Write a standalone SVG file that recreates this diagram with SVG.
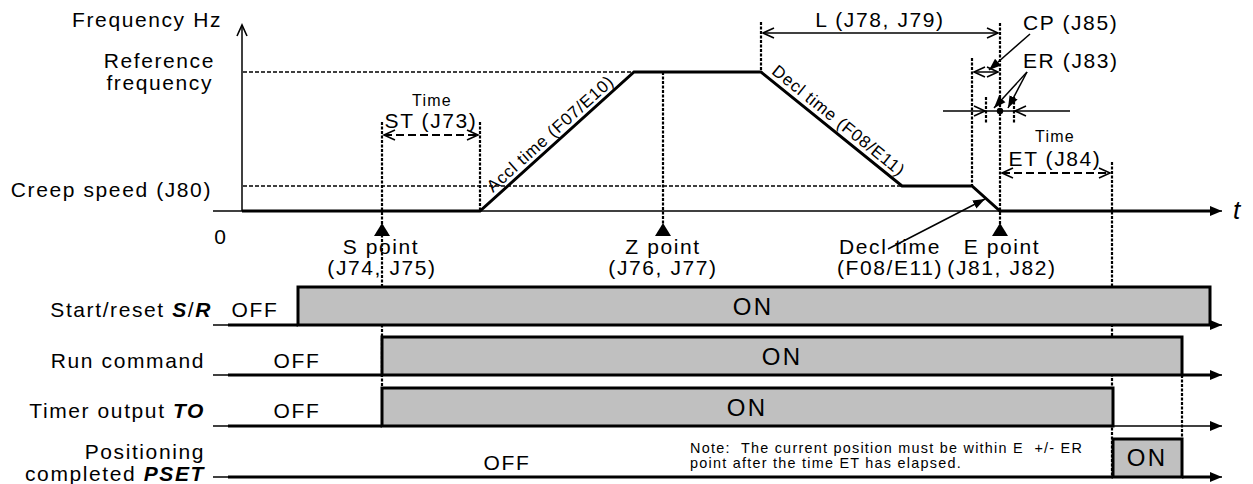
<svg xmlns="http://www.w3.org/2000/svg" width="1253" height="484" viewBox="0 0 1253 484">
<defs>
<style>
text{font-family:"Liberation Sans",Arial,sans-serif;fill:#000}
.t{font-size:21px;letter-spacing:1.6px}
.on{font-size:24px;letter-spacing:2.2px}
.s{font-size:16px;letter-spacing:1.3px}
.r{font-size:17px;letter-spacing:0.8px}
.n{font-size:14.4px;letter-spacing:1.25px;white-space:pre}
.ax{stroke:#000;stroke-width:1.5;fill:none}
.sig{stroke:#000;stroke-width:3;fill:none}
.bar{fill:#c0c0c0;stroke:#000;stroke-width:3}
.dot{stroke:#000;stroke-width:2.2;stroke-dasharray:3 1.5;fill:none}
.ref{stroke:#000;stroke-width:1.5;stroke-dasharray:4 2;fill:none}
.dim{stroke:#000;stroke-width:2;stroke-dasharray:8 4;fill:none}
.thin{stroke:#000;stroke-width:1.5;fill:none}
.bi{font-weight:bold;font-style:italic}
</style>
<marker id="fa" markerUnits="userSpaceOnUse" markerWidth="14" markerHeight="10" refX="12" refY="5" orient="auto"><path d="M0,0 L12,5 L0,10 Z" fill="#000"/></marker>
<marker id="oa" markerUnits="userSpaceOnUse" markerWidth="14" markerHeight="12" refX="12" refY="6" orient="auto-start-reverse"><path d="M1,1 L12,6 L1,11" fill="none" stroke="#000" stroke-width="1.6"/></marker>
<marker id="la" markerUnits="userSpaceOnUse" markerWidth="14" markerHeight="10" refX="12" refY="5" orient="auto"><path d="M0,0.5 L12,5 L0,9.5 Z" fill="#000"/></marker>
<polygon id="tri" points="0,0 8,13 -8,13" fill="#000"/>
</defs>

<g id="axes">
<line class="ax" x1="242" y1="211" x2="242" y2="25" marker-end="url(#oa)"/>
<line class="ax" x1="213" y1="211" x2="1222" y2="211" marker-end="url(#fa)"/>
</g>

<g id="axis-labels">
<text class="t" x="222" y="27" text-anchor="end">Frequency Hz</text>
<text class="t" x="215" y="68" text-anchor="end">Reference</text>
<text class="t" x="213" y="90" text-anchor="end">frequency</text>
<text class="t" x="212" y="197" text-anchor="end">Creep speed (J80)</text>
<text class="t" x="221" y="244" text-anchor="middle">0</text>
<text x="1233" y="219" style="font-size:26px;font-style:italic">t</text>
</g>

<g id="reference-lines">
<line class="ref" x1="243" y1="72" x2="634" y2="72"/>
<line class="ref" x1="243" y1="186" x2="902" y2="186"/>
</g>

<g id="frequency-trace">
<polyline class="sig" points="242,211 480,211 634,72 761,72 902,186 972,186 1000,211 1215,211"/>
</g>

<g id="connectors">
<line class="dot" x1="382" y1="122" x2="382" y2="388"/>
<line class="dot" x1="480" y1="122" x2="480" y2="211"/>
<line class="dot" x1="663" y1="72" x2="663" y2="224"/>
<line class="dot" x1="761" y1="22" x2="761" y2="72"/>
<line class="dot" x1="972" y1="58" x2="972" y2="186"/>
<line class="dot" x1="1000" y1="23" x2="1000" y2="224"/>
<line class="dot" x1="1112" y1="162" x2="1112" y2="477"/>
<line class="dot" x1="1182" y1="375" x2="1182" y2="439"/>
<line class="dot" x1="986" y1="97" x2="986" y2="123"/>
<line class="dot" x1="1014" y1="97" x2="1014" y2="123"/>
<line class="dim" x1="384" y1="135" x2="478" y2="135" marker-start="url(#oa)" marker-end="url(#oa)"/>
<line class="dim" x1="1002" y1="173" x2="1110" y2="173" marker-start="url(#oa)" marker-end="url(#oa)"/>
<line class="thin" x1="763" y1="33" x2="998" y2="33" marker-start="url(#oa)" marker-end="url(#oa)"/>
<line class="thin" x1="974" y1="72" x2="998" y2="72" marker-start="url(#oa)" marker-end="url(#oa)"/>
<line class="thin" x1="943" y1="111" x2="985" y2="111" marker-end="url(#oa)"/>
<line class="thin" x1="1070" y1="111" x2="1015" y2="111" marker-end="url(#oa)"/>
<line class="thin" x1="985" y1="111" x2="1015" y2="111"/>
<circle cx="1000" cy="111" r="3.2" fill="#000"/>
<line class="thin" x1="1030" y1="34" x2="989" y2="70" marker-end="url(#la)"/>
<line class="thin" x1="1027" y1="72" x2="994" y2="108" marker-end="url(#la)"/>
<line class="thin" x1="1027" y1="72" x2="1008" y2="108" marker-end="url(#la)"/>
<line class="thin" x1="888" y1="249" x2="985" y2="199" marker-end="url(#la)"/>
<use href="#tri" x="382" y="223"/>
<use href="#tri" x="663" y="223"/>
<use href="#tri" x="1000" y="223"/>
</g>

<g id="dimension-labels">
<text class="s" x="432" y="106" text-anchor="middle">Time</text>
<text class="t" x="431" y="128" text-anchor="middle">ST (J73)</text>
<text class="t" x="880" y="27" text-anchor="middle">L (J78, J79)</text>
<text class="t" x="1023" y="30">CP (J85)</text>
<text class="t" x="1023" y="68">ER (J83)</text>
<text class="s" x="1055" y="142" text-anchor="middle">Time</text>
<text class="t" x="1055" y="166" text-anchor="middle">ET (J84)</text>
<text class="r" transform="translate(554,138) rotate(-42)" text-anchor="middle">Accl time (F07/E10)</text>
<text class="r" transform="translate(835,125) rotate(39)" text-anchor="middle">Decl time (F08/E11)</text>
</g>

<g id="point-labels">
<text class="t" x="381" y="254" text-anchor="middle">S point</text>
<text class="t" x="382" y="275" text-anchor="middle">(J74, J75)</text>
<text class="t" x="663" y="254" text-anchor="middle">Z point</text>
<text class="t" x="663" y="275" text-anchor="middle">(J76, J77)</text>
<text class="t" x="890" y="254" text-anchor="middle">Decl time</text>
<text class="t" x="890" y="275" text-anchor="middle">(F08/E11)</text>
<text class="t" x="1002" y="254" text-anchor="middle">E point</text>
<text class="t" x="1002" y="275" text-anchor="middle">(J81, J82)</text>
</g>

<g id="row-sr">
<line class="ax" x1="213" y1="325" x2="1222" y2="325" marker-end="url(#fa)"/>
<rect class="bar" x="298" y="287" width="912" height="38"/>
<line class="sig" x1="228" y1="325" x2="298" y2="325"/>
<text class="t" x="212" y="317" text-anchor="end">Start/reset <tspan class="bi">S</tspan>/<tspan class="bi">R</tspan></text>
<text class="t" x="255" y="317" text-anchor="middle">OFF</text>
<text class="on" x="753" y="315" text-anchor="middle">ON</text>
</g>

<g id="row-run">
<line class="ax" x1="213" y1="375" x2="1222" y2="375" marker-end="url(#fa)"/>
<rect class="bar" x="382" y="337" width="800" height="38"/>
<line class="sig" x1="228" y1="375" x2="382" y2="375"/>
<line class="sig" x1="1182" y1="375" x2="1215" y2="375"/>
<text class="t" x="205" y="368" text-anchor="end">Run command</text>
<text class="t" x="297" y="368" text-anchor="middle">OFF</text>
<text class="on" x="782" y="365" text-anchor="middle">ON</text>
</g>

<g id="row-to">
<line class="ax" x1="213" y1="426" x2="1222" y2="426" marker-end="url(#fa)"/>
<rect class="bar" x="382" y="388" width="731" height="38"/>
<line class="sig" x1="228" y1="426" x2="382" y2="426"/>
<text class="t" x="205" y="418" text-anchor="end">Timer output <tspan class="bi">TO</tspan></text>
<text class="t" x="297" y="418" text-anchor="middle">OFF</text>
<text class="on" x="747" y="416" text-anchor="middle">ON</text>
</g>

<g id="row-pset">
<line class="ax" x1="213" y1="477" x2="1222" y2="477" marker-end="url(#fa)"/>
<rect class="bar" x="1113" y="439" width="69" height="38"/>
<line class="sig" x1="228" y1="477" x2="1113" y2="477"/>
<line class="sig" x1="1182" y1="477" x2="1215" y2="477"/>
<text class="t" x="205" y="458.5" text-anchor="end">Positioning</text>
<text class="t" x="205" y="480.5" text-anchor="end">completed <tspan class="bi">PSET</tspan></text>
<text class="t" x="507" y="470" text-anchor="middle">OFF</text>
<text class="on" x="1147" y="466" text-anchor="middle">ON</text>
<text class="n" x="690" y="453" xml:space="preserve">Note:  The current position must be within E  +/- ER</text>
<text class="n" x="690" y="468">point after the time ET has elapsed.</text>
</g>
</svg>
